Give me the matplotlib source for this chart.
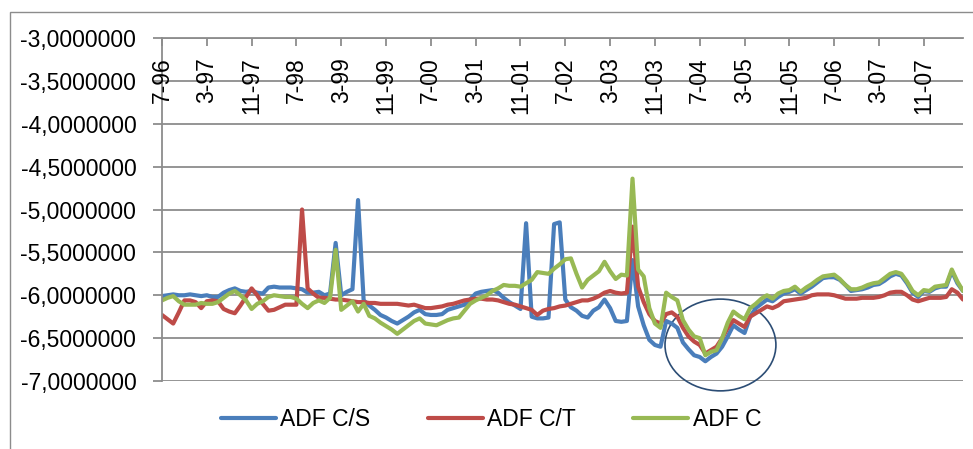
import numpy as np
import matplotlib
matplotlib.use('Agg')
import matplotlib.pyplot as plt
from matplotlib.patches import Ellipse, Rectangle
from matplotlib.transforms import blended_transform_factory

plt.rcParams['font.family'] = ['Liberation Sans', 'DejaVu Sans']

# monthly ADF statistics, 7-96 .. 6-08
adf_cs = [-6.01, -6.00, -5.99, -6.00, -6.00, -5.99, -6.00, -6.01, -6.00, -6.02,
          -6.02, -5.97, -5.94, -5.92, -5.95, -5.96, -5.95, -5.97, -5.98, -5.91,
          -5.90, -5.91, -5.91, -5.91, -5.92, -5.93, -5.97, -5.97, -5.96, -6.00,
          -5.98, -5.39, -6.00, -5.96, -5.93, -4.89, -6.06, -6.12, -6.17, -6.23,
          -6.26, -6.30, -6.33, -6.29, -6.25, -6.20, -6.17, -6.22, -6.23, -6.23,
          -6.22, -6.17, -6.15, -6.13, -6.11, -6.05, -5.98, -5.96, -5.95, -5.94,
          -5.97, -6.03, -6.08, -6.12, -6.16, -5.16, -6.25, -6.27, -6.27, -6.26,
          -5.17, -5.15, -6.05, -6.14, -6.18, -6.24, -6.26, -6.18, -6.14, -6.05,
          -6.15, -6.30, -6.31, -6.30, -5.59, -6.13, -6.35, -6.52, -6.58, -6.60,
          -6.30, -6.33, -6.38, -6.55, -6.63, -6.70, -6.72, -6.77, -6.72, -6.68,
          -6.60, -6.48, -6.35, -6.40, -6.44, -6.25, -6.15, -6.10, -6.05, -6.07,
          -6.02, -5.98, -5.96, -5.93, -5.98, -5.94, -5.90, -5.85, -5.80, -5.79,
          -5.79, -5.82, -5.88, -5.95, -5.94, -5.93, -5.91, -5.88, -5.87, -5.83,
          -5.78, -5.75, -5.77, -5.86, -5.97, -6.02, -5.95, -5.96, -5.92, -5.90,
          -5.90, -5.72, -5.86, -5.95]

adf_ct = [-6.23, -6.28, -6.33, -6.20, -6.06, -6.06, -6.08, -6.15, -6.07, -6.06,
          -6.07, -6.16, -6.19, -6.21, -6.12, -6.02, -5.92, -6.00, -6.10, -6.18,
          -6.17, -6.14, -6.11, -6.11, -6.11, -5.00, -5.92, -5.98, -6.03, -6.03,
          -6.04, -6.05, -6.05, -6.06, -6.07, -6.08, -6.08, -6.09, -6.09, -6.10,
          -6.10, -6.10, -6.10, -6.11, -6.12, -6.11, -6.13, -6.15, -6.15, -6.14,
          -6.13, -6.11, -6.10, -6.08, -6.06, -6.05, -6.04, -6.04, -6.05, -6.05,
          -6.06, -6.08, -6.10, -6.11, -6.13, -6.15, -6.17, -6.23, -6.18, -6.16,
          -6.15, -6.13, -6.12, -6.10, -6.08, -6.06, -6.06, -6.04, -6.01, -5.97,
          -5.95, -5.97, -5.98, -5.97, -5.20, -5.90, -6.08, -6.22, -6.30, -6.33,
          -6.22, -6.20, -6.25, -6.38, -6.48, -6.54, -6.58, -6.68, -6.64, -6.60,
          -6.50, -6.38, -6.29, -6.33, -6.37, -6.25, -6.21, -6.17, -6.13, -6.15,
          -6.12, -6.07, -6.06, -6.05, -6.04, -6.03, -6.00, -5.99, -5.99, -5.99,
          -6.00, -6.02, -6.04, -6.04, -6.04, -6.03, -6.03, -6.03, -6.02, -6.00,
          -5.97, -5.96, -5.96, -6.00, -6.05, -6.07, -6.05, -6.03, -6.03, -6.03,
          -6.02, -5.93, -5.97, -6.05]

adf_c = [-6.06, -6.03, -6.01, -6.07, -6.11, -6.11, -6.11, -6.09, -6.10, -6.10,
         -6.08, -6.03, -5.98, -5.95, -6.00, -6.06, -6.16, -6.10, -6.07, -6.02,
         -6.00, -6.01, -6.02, -6.02, -6.04, -6.10, -6.15, -6.09, -6.06, -6.09,
         -6.03, -5.47, -6.17, -6.12, -6.07, -6.19, -6.10, -6.24, -6.27, -6.32,
         -6.36, -6.40, -6.45, -6.40, -6.35, -6.30, -6.27, -6.33, -6.34, -6.35,
         -6.32, -6.29, -6.27, -6.26, -6.18, -6.10, -6.06, -6.03, -6.00, -5.95,
         -5.92, -5.88, -5.89, -5.89, -5.90, -5.86, -5.82, -5.73, -5.74, -5.75,
         -5.69, -5.64, -5.58, -5.57, -5.75, -5.91, -5.82, -5.77, -5.72, -5.61,
         -5.72, -5.81, -5.76, -5.77, -4.64, -5.70, -5.78, -6.15, -6.33, -6.38,
         -5.97, -6.02, -6.06, -6.29, -6.40, -6.48, -6.50, -6.70, -6.66, -6.64,
         -6.50, -6.32, -6.19, -6.24, -6.28, -6.15, -6.10, -6.04, -6.00, -6.04,
         -5.98, -5.95, -5.94, -5.90, -5.96, -5.91, -5.87, -5.82, -5.78, -5.77,
         -5.76, -5.81, -5.88, -5.93, -5.93, -5.91, -5.88, -5.86, -5.85, -5.80,
         -5.75, -5.73, -5.75, -5.84, -5.95, -6.00, -5.94, -5.95, -5.90, -5.89,
         -5.88, -5.70, -5.84, -5.95]

months = []
m, yy = 7, 96
for _ in range(len(adf_c)):
    months.append('%d-%02d' % (m, yy % 100))
    m += 1
    if m > 12:
        m, yy = 1, yy + 1

series = [('ADF C/S', adf_cs, '#4a7ebb'),
          ('ADF C/T', adf_ct, '#be4b48'),
          ('ADF C', adf_c, '#98b954')]

grey = '#8c8c8c'

fig = plt.figure(figsize=(9.73, 4.49), dpi=100)
ax = fig.add_axes([162 / 973, 1 - 381 / 449, 801 / 973, 343 / 449])

x = np.arange(len(months))
lines = []
for name, vals, col in series:
    ln, = ax.plot(x, vals, color=col, lw=3.0, label=name,
                  solid_joinstyle='round', solid_capstyle='round')
    lines.append(ln)

ax.set_xlim(0, len(months) - 1)
ax.set_ylim(-7, -3)
ax.set_yticks(np.arange(-7, -2.9, 0.5))
ax.set_yticklabels([('%.7f' % v).replace('.', ',') for v in np.arange(-7, -2.9, 0.5)],
                   fontsize=16.5)
ax.yaxis.grid(True, color=grey, lw=1.3)
ax.set_axisbelow(True)
ax.tick_params(axis='y', length=6.5, width=1.3, color=grey, pad=12)

ax.spines['right'].set_visible(False)
ax.spines['bottom'].set_visible(False)
ax.spines['left'].set_color(grey)
ax.spines['left'].set_linewidth(1.3)
ax.spines['top'].set_color(grey)
ax.spines['top'].set_linewidth(1.3)

# category axis sits along the top edge, labels every 8 months
tick_pos = x[::8]
ax.set_xticks(tick_pos)
ax.tick_params(axis='x', top=True, bottom=False, labelbottom=False,
               labeltop=False, direction='in', length=5.5, width=1.3, color=grey)
trans = blended_transform_factory(ax.transData, ax.transAxes)
for p in tick_pos:
    ax.text(p, 1 - 19 / 343, months[p], rotation=90, ha='center', va='top',
            fontsize=16.5, transform=trans)

# highlight of the 2004 trough
ax.add_patch(Ellipse((99.7, -6.58), 19.8, 1.07, fill=False,
                     edgecolor='#2c4d75', lw=1.2, clip_on=False))

fig.legend(handles=lines, loc='center', bbox_to_anchor=(491 / 973, 1 - 420 / 449),
           ncol=3, frameon=False, fontsize=16.5, handlelength=2.4,
           handletextpad=0.2, columnspacing=2.5)

# chart border
fig.add_artist(Rectangle((9.5 / 973, -0.1), 1.2, 1.1 - 12.3 / 449,
                         transform=fig.transFigure, fill=False,
                         edgecolor=grey, lw=1.0))

fig.savefig('out.png', dpi=100)
